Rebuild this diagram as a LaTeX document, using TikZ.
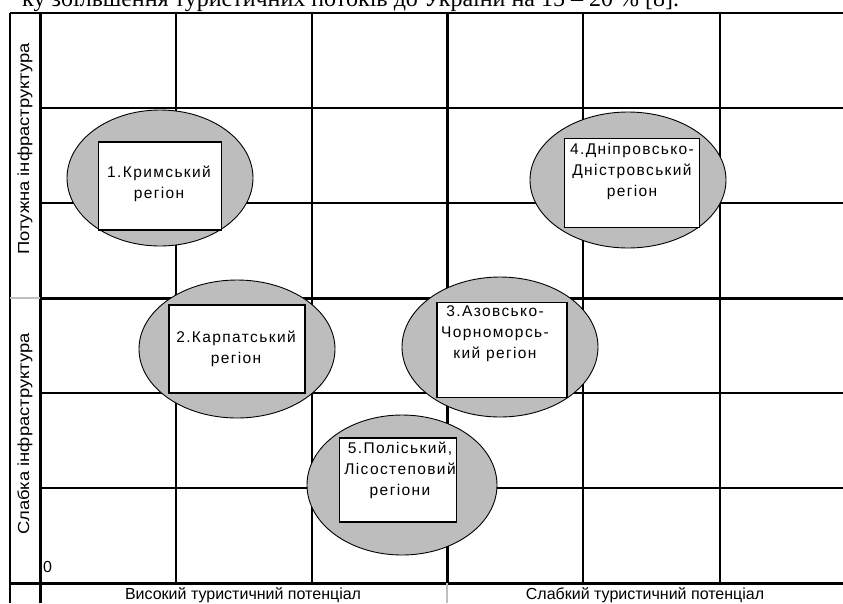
\documentclass[tikz,border=0pt]{standalone}
\usepackage{fontspec}
\setmainfont{Liberation Sans}
\newfontfamily\boxfont[LetterSpace=9]{Liberation Sans}
\newfontfamily\sidefont[FakeStretch=1.15]{Liberation Sans}
\newfontfamily\topfont{Liberation Serif}
\usetikzlibrary{shapes.geometric,calc,positioning}

\tikzset{
  grid/.style={line width=1.8pt},
  gridthick/.style={line width=3pt},
  gridgray/.style={line width=1.5pt, gray!50},
  region/.style={ellipse, draw, line width=0.9pt, fill=gray!52, inner sep=0pt},
  regbox/.style={draw, line width=1.1pt, fill=white, inner sep=0pt},
  regtext/.style={font=\boxfont\fontsize{15.5}{21}\selectfont, align=center, inner sep=0pt},
  axis/.style={font=\fontsize{16}{19}\selectfont, inner sep=0pt},
  sideaxis/.style={font=\sidefont\fontsize{16}{19}\selectfont, inner sep=0pt, rotate=90},
}

\begin{document}
\begin{tikzpicture}[x=1pt, y=-1pt]
    \useasboundingbox (0,0) rectangle (843,603);

    % line of the page above, cut off
    \node[font=\topfont\fontsize{24}{28}\selectfont, anchor=base west, inner sep=0pt] (topline) at (22,6) {ку збільшення туристичних потоків до України на 15 – 20 \% [8].};

    % grid
    \foreach \x in {176,312,583,720} \draw[grid] (\x,13) -- (\x,583);
    \foreach \y in {108,203,393,488} \draw[grid] (40,\y) -- (843,\y);
    \draw[grid] (10,13) -- (843,13);
    \draw[grid] (10,13) -- (10,603);
    \draw[gridthick] (40,13) -- (40,603);
    \draw[gridthick] (447,13) -- (447,583);
    \draw[gridthick] (40,298) -- (843,298);
    \draw[gridthick] (10,583) -- (843,583);
    \draw[gridgray] (10,298) -- (40,298);
    \draw[gridgray] (447,583) -- (447,603);

    % axes
    \node[sideaxis] (strong) at (25,149) {Потужна інфраструктура};
    \node[sideaxis] (weak) at (25,434) {Слабка інфраструктура};
    \node[axis, anchor=base] (highpot) at (243,599) {Високий туристичний потенціал};
    \node[axis, anchor=base] (lowpot) at (645,599) {Слабкий туристичний потенціал};
    \node[axis, anchor=west] (zero) at (43,567) {0};

    % regions
    \node[region, minimum width=186pt, minimum height=136pt] (krym) at (160,178) {};
    \node[regbox, minimum width=123pt, minimum height=88pt] (krymbox) at (160,186) {};
    \node[regtext] (krymtext) at (159,184) {1.Кримський\\регіон};

    \node[region, minimum width=196pt, minimum height=138pt] (karp) at (237,349) {};
    \node[regbox, minimum width=136pt, minimum height=88pt] (karpbox) at (237,349) {};
    \node[regtext] (karptext) at (236,349) {2.Карпатський\\регіон};

    \node[region, minimum width=196pt, minimum height=140pt] (azov) at (500,347) {};
    \node[regbox, minimum width=130pt, minimum height=95pt] (azovbox) at (502,350) {};
    \node[regtext] (azovtext) at (495,334) {3.Азовсько-\\Чорноморсь-\\кий регіон};

    \node[region, minimum width=196pt, minimum height=136pt] (dnipro) at (628,180) {};
    \node[regbox, minimum width=135pt, minimum height=89pt] (dniprobox) at (632,183) {};
    \node[regtext] (diprotext) at (632,171) {4.Дніпровсько-\\Дністровський\\регіон};

    \node[region, minimum width=190pt, minimum height=140pt] (polis) at (402,485) {};
    \node[regbox, minimum width=117pt, minimum height=84pt] (polisbox) at (398,480) {};
    \node[regtext] (polistext) at (400,470) {5.Поліський,\\Лісостеповий\\регіони};
\end{tikzpicture}
\end{document}
